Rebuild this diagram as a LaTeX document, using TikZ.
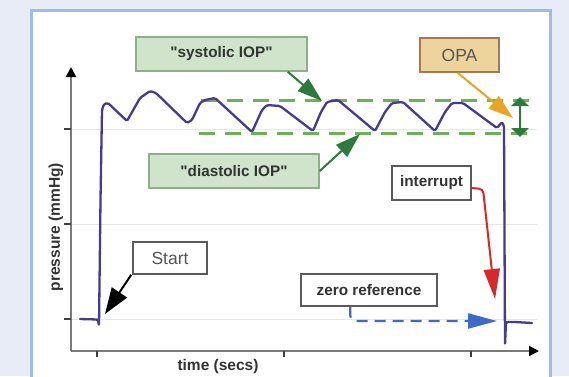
\documentclass[tikz,border=0pt]{standalone}
\usepackage{fontspec}
\setmainfont{Liberation Sans}
\usetikzlibrary{arrows.meta,calc}
\definecolor{bgout}{HTML}{E8ECF6}
\definecolor{panelb}{HTML}{A3BAE3}
\definecolor{trace}{HTML}{463A98}
\definecolor{boxgreen}{HTML}{CFE4CB}
\definecolor{boxgreenb}{HTML}{8FAF88}
\definecolor{opafill}{HTML}{EDD39C}
\definecolor{opab}{HTML}{A87850}
\definecolor{dkgreen}{HTML}{2E7A3C}
\definecolor{dashgreen}{HTML}{6CB255}
\definecolor{arrorange}{HTML}{E8A524}
\definecolor{arrred}{HTML}{D42A2A}
\definecolor{arrblue}{HTML}{3C6CC8}
\definecolor{axisgrey}{HTML}{7A7A7A}
\definecolor{gridgrey}{HTML}{E6E6E6}
\definecolor{txt}{HTML}{333333}
\definecolor{txtlight}{HTML}{555555}
\definecolor{boxgrey}{HTML}{5A5A5A}
\begin{document}
\begin{tikzpicture}[x=1pt,y=-1pt,
  lbl/.style={draw=#1, line width=1.5pt, inner sep=0pt, text=txt,
    font=\fontsize{15.3}{17}\selectfont\bfseries},
  lblreg/.style={draw=#1, line width=1.5pt, inner sep=0pt, text=txtlight,
    font=\fontsize{17.5}{19}\selectfont},
  bigtip/.style={-{Triangle[length=25pt,width=16pt]}},
  axistip/.style={-{Triangle[length=10pt,width=10pt,color=black]}},
  gridline/.style={gridgrey, line width=0.8pt},
  tickmark/.style={black!75, line width=2pt},
  dashref/.style={dashgreen, line width=3pt, dash pattern=on 16pt off 10pt},
  axlabel/.style={text=txt, font=\fontsize{15.5}{17}\selectfont\bfseries, inner sep=0pt}
]
\useasboundingbox (0,0) rectangle (569,376);
\fill[bgout] (0,0) rectangle (569,376);
\filldraw[fill=white, draw=panelb, line width=2.5pt] (31.5,10.5) rectangle (550.5,385);

% grid
\foreach \yy in {129,224,319} \draw[gridline] (71,\yy) -- (537,\yy);

% axes
\coordinate (org) at (71,351);
\coordinate (ytop) at (71,67);
\coordinate (xend) at (539,351);
\draw[axisgrey, line width=2pt, axistip] (org) -- (ytop);
\draw[axisgrey, line width=2pt, axistip] (org) -- (xend);
\foreach \yy in {129,224,319} \draw[tickmark] (64,\yy) -- (71,\yy);
\foreach \xx in {97,284,471} \draw[tickmark] (\xx,351) -- (\xx,357);

\node[axlabel, rotate=90] (ylab) at (56,227) {pressure (mmHg)};
\node[axlabel] (xlab) at (218,366) {time (secs)};

% reference dashed lines
\coordinate (sysL) at (201,100);
\coordinate (sysR) at (529,100);
\coordinate (diaL) at (199,133);
\coordinate (diaR) at (529,133);
\draw[dashref] (sysL) -- (sysR);
\draw[dashref] (diaL) -- (diaR);

% trace
\draw[trace, line width=2.3pt, line join=round, line cap=round, rounded corners=1.5pt]
 (80,319) -- (98,319.5) -- (99,326) -- (100.5,200) -- (102,110) -- (104,104) -- (108,103)
 -- (127,121) -- (140,98) -- (150,91) -- (156,93) -- (187,123) -- (192,120) -- (200,103)
 -- (205,100) -- (215,98) -- (252,132) -- (262,110) -- (267,105) -- (280,106) -- (313,131)
 -- (321,112) -- (327,102) -- (338,100) -- (375,131) -- (385,112) -- (392,103) -- (403,102)
 -- (435,131) -- (445,112) -- (452,103) -- (463,103) -- (497,128) -- (502,122) -- (504,126)
 -- (505,345) -- (506,322) -- (515,322) -- (532,323);

% OPA double arrow
\coordinate (opaTop) at (520,97);
\coordinate (opaBot) at (520,137);
\draw[dkgreen, line width=2.2pt, {Triangle[length=9pt,width=17pt]}-{Triangle[length=9pt,width=17pt]}] (opaTop) -- (opaBot);

% label boxes
\node[lbl=boxgreenb, fill=boxgreen, minimum width=171pt, minimum height=34pt] (sys) at (221.5,54) {\textquotedbl systolic IOP\textquotedbl};
\node[lblreg=opab, fill=opafill, minimum width=79pt, minimum height=34pt] (opa) at (459.5,55) {OPA};
\node[lbl=boxgreenb, fill=boxgreen, minimum width=170pt, minimum height=34pt] (dia) at (234,171) {\textquotedbl diastolic IOP\textquotedbl};
\node[lbl=boxgrey, fill=white, minimum width=79pt, minimum height=34pt] (intr) at (431.5,183) {interrupt};
\node[lblreg=boxgrey, fill=white, minimum width=74pt, minimum height=32pt] (start) at (170,258) {Start};
\node[lbl=boxgrey, fill=white, minimum width=136pt, minimum height=32pt] (zero) at (369,290) {zero reference};

% arrows
\coordinate (sysTip) at (322,101);
\coordinate (opaTip) at (513,118);
\coordinate (diaTip) at (360,134);
\coordinate (intrBend) at (483,189);
\coordinate (intrTip) at (495,299);
\coordinate (startTip) at (105,314);
\coordinate (zeroTip) at (497,321);

\draw[dkgreen, line width=2pt, bigtip] ($(sys.south east)+(-20,0)$) -- (sysTip);
\draw[arrorange, line width=2pt, bigtip] ($(opa.south)+(-2,0)$) -- (opaTip);
\draw[dkgreen, line width=2pt, bigtip] (dia.east) -- (diaTip);
\draw[arrred, line width=2pt, -{Triangle[length=30pt,width=16pt]}, rounded corners=4pt] ($(intr.east)+(0,5)$) -- (intrBend) -- (intrTip);
\draw[black, line width=2pt, -{Triangle[length=26pt,width=18pt]}] ($(start.south west)+(-1,0)$) -- (startTip);
\draw[arrblue, line width=2.2pt, -{Triangle[length=29pt,width=15pt]}, dash pattern=on 11pt off 7pt, rounded corners=6pt]
  ($(zero.south west)+(50,0)$) |- (zeroTip);
\end{tikzpicture}
\end{document}
